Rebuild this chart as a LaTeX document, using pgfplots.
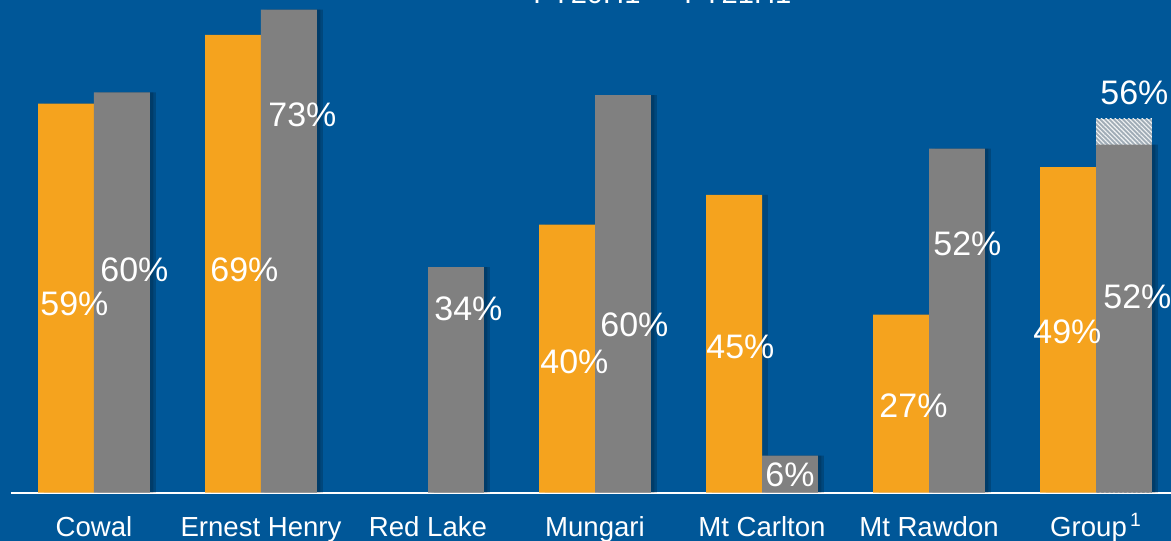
\documentclass[border=0pt]{standalone}
\usepackage{fontspec}
\setmainfont{Liberation Sans}
\usepackage{pgfplots}
\pgfplotsset{compat=1.18}
\usetikzlibrary{backgrounds,patterns.meta}

\definecolor{bgblue}{RGB}{0,87,152}
\definecolor{barorange}{RGB}{245,163,30}
\definecolor{bargray}{RGB}{128,128,128}
\definecolor{hatchbg}{RGB}{160,172,182}

\tikzset{lbl/.style={white, font=\fontsize{17}{17}\selectfont, anchor=west, inner sep=0pt}}

\begin{document}
\begin{tikzpicture}
\begin{axis}[
  name=ax,
  scale only axis,
  width=580.5pt, height=246.5pt,
  xmin=-0.497, xmax=6.449,
  ymin=0, ymax=74.47,
  ybar, bar width=0.335,
  axis x line=bottom,
  axis y line=none,
  x axis line style={-, white, line width=1pt},
  xtick={0,1,2,3,4,5,6},
  xticklabels={Cowal, Ernest Henry, Red Lake, Mungari, Mt Carlton, Mt Rawdon, Group\textsuperscript{\,1}},
  major tick length=0pt,
  xticklabel style={white, font=\fontsize{13.8}{14}\selectfont, anchor=base, yshift=-22pt},
  clip=false,
]
% shadows
\addplot[fill=black, fill opacity=0.18, draw=none, bar shift=-0.1325] coordinates {(0,58.8)(1,69.2)(3,40.5)(4,45)(5,26.9)(6,49.2)};
\addplot[fill=black, fill opacity=0.18, draw=none, bar shift=0.2025] coordinates {(0,60.5)(1,73)(2,34.1)(3,60.1)(4,5.6)(5,52)(6,52.6)};
\addplot[fill=black, fill opacity=0.15, draw=none, bar shift=0.1875] coordinates {(0,60.5)(1,73)(2,34.1)(3,60.1)(4,5.6)(5,52)(6,52.6)};
% FY20
\addplot[fill=barorange, draw=none, bar shift=-0.1675] coordinates {(0,58.8)(1,69.2)(3,40.5)(4,45)(5,26.9)(6,49.2)};
% hatched increment on Group
\addplot[fill=hatchbg, draw=none, bar shift=0.1675,
  postaction={pattern={Lines[angle=-45,distance=1.6pt,line width=0.55pt]}, pattern color=white!85!hatchbg}]
  coordinates {(6,56.5)};
% FY21
\addplot[fill=bargray, draw=none, bar shift=0.1675] coordinates {(0,60.5)(1,73)(2,34.1)(3,60.1)(4,5.6)(5,52)(6,52.6)};

\node[lbl] at (axis cs:-0.323,28.5) {59\%};
\node[lbl] at (axis cs:0.036,33.7) {60\%};
\node[lbl] at (axis cs:0.695,33.7) {69\%};
\node[lbl] at (axis cs:1.042,57.1) {73\%};
\node[lbl] at (axis cs:2.036,27.8) {34\%};
\node[lbl] at (axis cs:2.671,19.8) {40\%};
\node[lbl] at (axis cs:3.030,25.4) {60\%};
\node[lbl] at (axis cs:3.665,22.1) {45\%};
\node[lbl] at (axis cs:4.018,2.7) {6\%};
\node[lbl] at (axis cs:4.701,13.1) {27\%};
\node[lbl] at (axis cs:5.024,37.6) {52\%};
\node[lbl] at (axis cs:5.623,24.3) {49\%};
\node[lbl] at (axis cs:6.042,29.6) {52\%};
\node[lbl] at (axis cs:6.024,60.4) {56\%};

\node[white, font=\fontsize{14.6}{15}\selectfont, anchor=base, inner sep=0pt] at (axis cs:2.952,73.87) {FY20H1};
\node[white, font=\fontsize{14.6}{15}\selectfont, anchor=base, inner sep=0pt] at (axis cs:3.856,73.87) {FY21H1};
\end{axis}
\begin{scope}[on background layer]
  \fill[bgblue] ([xshift=-5.5pt,yshift=-24pt]ax.south west) rectangle (ax.north east);
\end{scope}
\pgfresetboundingbox
\useasboundingbox ([xshift=-5.5pt,yshift=-24pt]ax.south west) rectangle (ax.north east);
\end{tikzpicture}
\end{document}
